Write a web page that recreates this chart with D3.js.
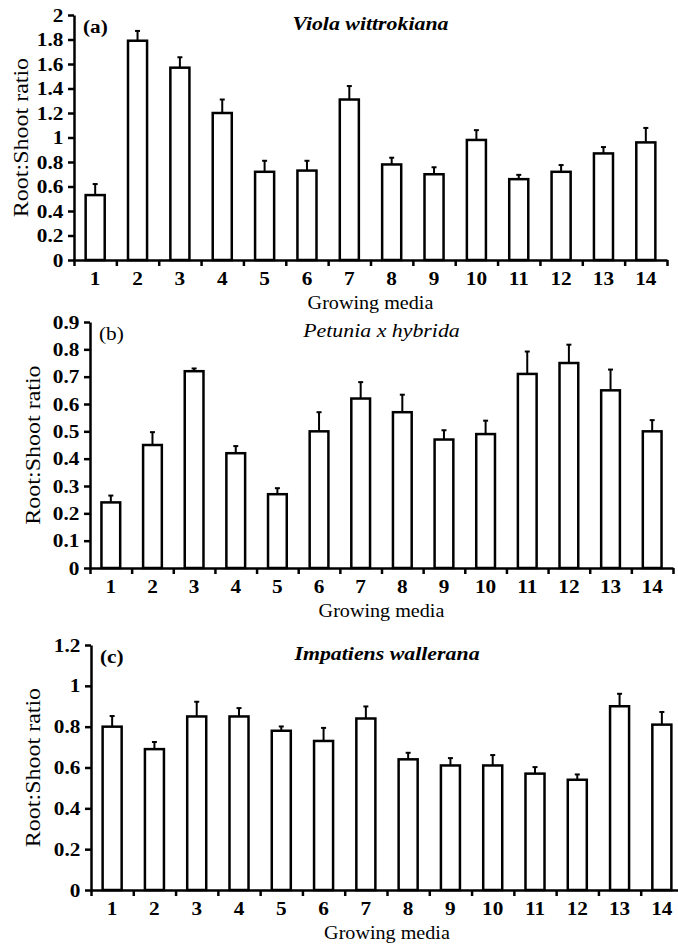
<!DOCTYPE html>
<html lang="en">

<head>
    <meta charset="UTF-8" />
    <title>Root:Shoot ratio by growing media</title>
    <script src="https://d3js.org/d3.v7.min.js"></script>
    <style>
        html,
        body {
            margin: 0;
            padding: 0;
            background: #fff;
            overflow: hidden;
        }

        svg {
            display: block;
        }

        svg text {
            font-family: "Liberation Serif", "Times New Roman", serif;
        }
    </style>
</head>

<body>
    <svg width="678" height="950"></svg>

    <script>
        // growing media 1..14
        const media = ["1", "2", "3", "4", "5", "6", "7", "8", "9", "10", "11", "12", "13", "14"];

        // (a) Viola wittrokiana
        const violaMeans = [0.53, 1.79, 1.57, 1.20, 0.72, 0.73, 1.31, 0.78, 0.70, 0.98, 0.66, 0.72, 0.87, 0.96];
        const violaErrs = [0.09, 0.08, 0.085, 0.11, 0.09, 0.08, 0.11, 0.055, 0.057, 0.08, 0.035, 0.055, 0.052, 0.118];

        // (b) Petunia x hybrida
        const petuniaMeans = [0.24, 0.45, 0.72, 0.42, 0.27, 0.50, 0.62, 0.57, 0.47, 0.49, 0.71, 0.75, 0.65, 0.50];
        const petuniaErrs = [0.025, 0.047, 0.01, 0.026, 0.022, 0.07, 0.06, 0.064, 0.034, 0.049, 0.082, 0.067, 0.076, 0.041];

        // (c) Impatiens wallerana
        const impatiensMeans = [0.80, 0.69, 0.85, 0.85, 0.78, 0.73, 0.84, 0.64, 0.61, 0.61, 0.57, 0.54, 0.90, 0.81];
        const impatiensErrs = [0.052, 0.035, 0.072, 0.041, 0.021, 0.064, 0.059, 0.032, 0.036, 0.051, 0.032, 0.026, 0.061, 0.062];

        const panels = [
            { tag: "(a)", tagBold: true, species: "Viola wittrokiana", speciesBold: true,
              means: violaMeans, errs: violaErrs, yMax: 2, yStep: 0.2,
              left: 74, right: 667, top: 15, bottom: 260, titleX: 21 },
            { tag: "(b)", tagBold: false, species: "Petunia x hybrida", speciesBold: false,
              means: petuniaMeans, errs: petuniaErrs, yMax: 0.9, yStep: 0.1,
              left: 90, right: 673, top: 322, bottom: 568, titleX: 33 },
            { tag: "(c)", tagBold: true, species: "Impatiens wallerana", speciesBold: true,
              means: impatiensMeans, errs: impatiensErrs, yMax: 1.2, yStep: 0.2,
              left: 91, right: 683, top: 645, bottom: 890, titleX: 33 }
        ];

        const svg = d3.select("svg");
        const FS = 19;        // base font size
        const SX = 1.12;      // glyphs in the figure are a bit wider than Times
        const fmt = d => String(+d.toFixed(1));

        function label(g, x, y, txt, opts = {}) {
            const sx = opts.sx || SX;
            return g.append("text")
                .attr("transform", `translate(${x},${y})${opts.rotate ? " rotate(-90)" : ""} scale(${sx},1)`)
                .attr("text-anchor", opts.anchor || "middle")
                .attr("font-size", opts.size || FS)
                .attr("font-weight", opts.bold ? "bold" : "normal")
                .attr("font-style", opts.italic ? "italic" : "normal")
                .attr("fill", "#000")
                .text(txt);
        }

        panels.forEach(p => {
            const g = svg.append("g");

            const x = d3.scaleBand().domain(media).range([p.left, p.right]).padding(0);
            const xEdge = d3.scaleLinear().domain([0, media.length]).range([p.left, p.right]);
            const y = d3.scaleLinear().domain([0, p.yMax]).range([p.bottom, p.top]);
            const barW = x.bandwidth() * 0.45;

            const rows = media.map((m, i) => ({ m, v: p.means[i], e: p.errs[i] }));

            // bars
            g.append("g")
                .selectAll("rect")
                .data(rows)
                .join("rect")
                .attr("x", d => x(d.m) + (x.bandwidth() - barW) / 2)
                .attr("y", d => y(d.v))
                .attr("width", barW)
                .attr("height", d => y(0) - y(d.v))
                .attr("fill", "#fff")
                .attr("stroke", "#000")
                .attr("stroke-width", 2.5);

            // upper error bars
            const eb = g.append("g").attr("stroke", "#000").attr("stroke-width", 2);
            eb.selectAll("line.stem")
                .data(rows)
                .join("line")
                .attr("class", "stem")
                .attr("x1", d => x(d.m) + x.bandwidth() / 2)
                .attr("x2", d => x(d.m) + x.bandwidth() / 2)
                .attr("y1", d => y(d.v))
                .attr("y2", d => y(d.v + d.e));
            eb.selectAll("line.cap")
                .data(rows)
                .join("line")
                .attr("class", "cap")
                .attr("x1", d => x(d.m) + x.bandwidth() / 2 - 2.5)
                .attr("x2", d => x(d.m) + x.bandwidth() / 2 + 2.5)
                .attr("y1", d => y(d.v + d.e))
                .attr("y2", d => y(d.v + d.e));

            // y axis
            const yTicks = d3.range(0, p.yMax + p.yStep / 2, p.yStep);
            const yAx = g.append("g")
                .attr("transform", `translate(${p.left},0)`)
                .call(d3.axisLeft(y).tickValues(yTicks).tickFormat(fmt).tickSize(6).tickSizeOuter(0).tickPadding(3.5));

            // x axis: boundary ticks + centred labels
            const xAx = g.append("g")
                .attr("transform", `translate(0,${p.bottom})`)
                .call(d3.axisBottom(xEdge).tickValues(d3.range(media.length + 1)).tickFormat("").tickSize(6).tickSizeOuter(0));
            const xLab = g.append("g")
                .attr("transform", `translate(0,${p.bottom})`)
                .call(d3.axisBottom(x).tickSize(0).tickPadding(12));
            xLab.select(".domain").remove();

            [yAx, xAx, xLab].forEach(a => a.attr("font-family", null).attr("font-size", null));
            [yAx, xAx].forEach(a => {
                a.select(".domain").attr("stroke", "#000").attr("stroke-width", 2.5);
                a.selectAll(".tick line").attr("stroke", "#000").attr("stroke-width", 2.5);
            });
            [yAx, xLab].forEach(a => {
                a.selectAll("text")
                    .attr("font-size", FS)
                    .attr("font-weight", "bold")
                    .attr("fill", "#000")
                    .attr("transform", `scale(${SX},1)`);
            });

            // titles
            const midX = (p.left + p.right) / 2;
            label(g, p.left + 9, p.top + 18, p.tag, { anchor: "start", bold: p.tagBold });
            label(g, midX, p.top + 15, p.species, { italic: true, bold: p.speciesBold, sx: 1.15 });
            label(g, midX, p.bottom + 49, "Growing media", { sx: 1.06 });
            label(g, p.titleX + 7, (p.top + p.bottom) / 2, "Root:Shoot ratio", { rotate: true, size: 20, sx: 1.2 });
        });
    </script>
</body>

</html>
